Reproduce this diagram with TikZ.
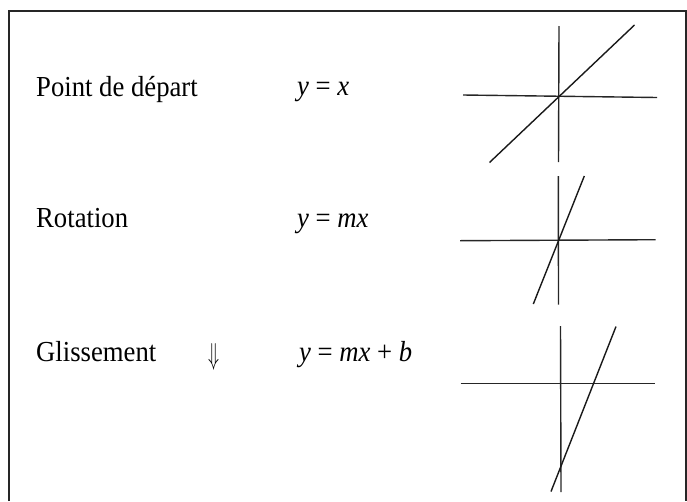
\documentclass[tikz,border=0pt]{standalone}
\usepackage{fontspec}
\usepackage{graphicx}
\setmainfont{Liberation Serif}[FakeStretch=0.92]
\begin{document}
\begin{tikzpicture}[x=1pt,y=-1pt,
  lbl/.style={anchor=base west,inner sep=0pt,font=\fontsize{29}{34}\selectfont},
  axis/.style={line width=1.4pt,black!85},
  curve/.style={line width=1.4pt,black!90},
  frame/.style={line width=1.6pt,black!85}]
\useasboundingbox (0,0) rectangle (687,501);
\draw[frame] (9,501) -- (9,11) -- (686,11) -- (686,501);
% row 1
\node[lbl] (t1) at (36,96.5) {Point de départ};
\node[lbl] (e1) at (297,95.5) {\textit{y} = \textit{x}};
\coordinate (v1a) at (559,26); \coordinate (v1b) at (558.5,162);
\coordinate (h1a) at (463,95); \coordinate (h1b) at (657,97.5);
\coordinate (d1a) at (489.5,162.5); \coordinate (d1b) at (634.5,25);
\draw[axis] (v1a) -- (v1b);
\draw[axis] (h1a) -- (h1b);
\draw[curve] (d1a) -- (d1b);
% row 2
\node[lbl] (t2) at (36,227) {Rotation};
\node[lbl] (e2) at (297,227) {\textit{y} = \textit{mx}};
\coordinate (v2a) at (558.3,176); \coordinate (v2b) at (558.5,304.5);
\coordinate (h2a) at (460,240.7); \coordinate (h2b) at (655.7,239.7);
\coordinate (d2a) at (533.3,304); \coordinate (d2b) at (584.3,176);
\draw[axis] (v2a) -- (v2b);
\draw[axis] (h2a) -- (h2b);
\draw[curve] (d2a) -- (d2b);
% row 3
\node[lbl] (t3) at (36,361.5) {Glissement};
\node[inner sep=0pt] (ar) at (213.5,357) {\resizebox{11pt}{21pt}{$\Downarrow$}};
\node[lbl] (e3) at (299,361.5) {\textit{y} = \textit{mx} + \textit{b}};
\coordinate (v3a) at (560.5,326); \coordinate (v3b) at (561,492);
\coordinate (h3a) at (460.7,383.7); \coordinate (h3b) at (655,383.7);
\coordinate (d3a) at (551,491.5); \coordinate (d3b) at (616,326.5);
\draw[axis] (v3a) -- (v3b);
\draw[axis] (h3a) -- (h3b);
\draw[curve] (d3a) -- (d3b);
\end{tikzpicture}
\end{document}
